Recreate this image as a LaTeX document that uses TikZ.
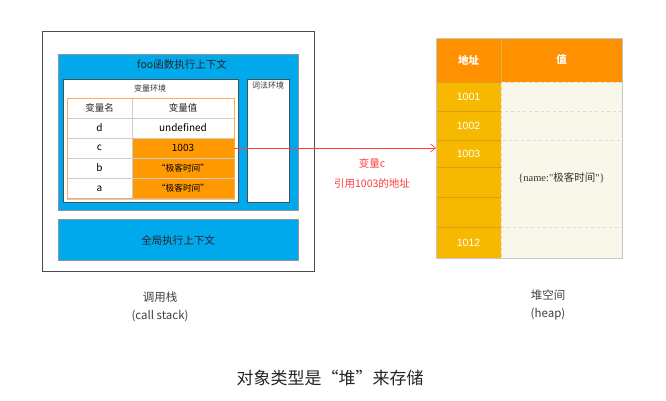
\documentclass[tikz,border=0pt]{standalone}
\usepackage{fontspec}
\setmainfont{Noto Sans CJK SC}
\newfontfamily\lserif{Liberation Serif}
\newfontfamily\lsans{Liberation Sans}
\usetikzlibrary{arrows.meta}
\definecolor{blueF}{RGB}{0,168,236}
\definecolor{orangeF}{RGB}{255,153,0}
\definecolor{orangeL}{RGB}{255,170,80}
\definecolor{heapH}{RGB}{255,145,0}
\definecolor{heapA}{RGB}{247,185,0}
\definecolor{heapAL}{RGB}{214,160,20}
\definecolor{heapV}{RGB}{249,246,234}
\definecolor{redA}{RGB}{255,60,60}
\definecolor{boxB}{RGB}{70,80,90}
\begin{document}
\begin{tikzpicture}[x=1pt,y=-1pt,
  every node/.style={inner sep=0pt, outer sep=0pt, font=\fontsize{10}{12}\selectfont},
  frame/.style={draw=black!70, line width=0.9pt},
  ctx/.style={fill=blueF, draw=boxB!60, line width=0.4pt},
  env/.style={fill=white, draw=boxB, line width=0.6pt},
  small/.style={font=\fontsize{8}{10}\selectfont, text=black!80},
  tcell/.style={draw=gray!40, line width=0.4pt},
  vcell/.style={tcell, fill=orangeF},
  hh/.style={fill=heapH, draw=heapAL!80, line width=0.5pt, text=white, font=\fontsize{10.5}{12}\selectfont\bfseries},
  ha/.style={fill=heapA, draw=heapAL, line width=0.5pt, text=white, font=\lsans\fontsize{10.5}{12}\selectfont},
  hv/.style={fill=heapV, draw=gray!30, dashed, line width=0.4pt},
  lbl/.style={font=\fontsize{11.5}{18}\selectfont, text=black!75, align=center},
  ref/.style={draw=redA, line width=0.6pt, -{Straight Barb[length=5pt,width=8pt]}}
]
\useasboundingbox[fill=white] (0,0) rectangle (666,400);

% call stack frame
\node[frame, minimum width=272pt, minimum height=240pt] (stack) at (178,151) {};

% foo execution context
\node[ctx, minimum width=240pt, minimum height=156pt] (foo) at (178,132) {};
\node[font=\fontsize{10.5}{12}\selectfont, text=black!85] (footitle) at (182,64) {foo函数执行上下文};

% variable environment
\node[env, minimum width=175pt, minimum height=123pt] (varenv) at (150.5,140.5) {};
\node[small] (vartitle) at (150,88) {变量环境};

% lexical environment
\node[env, minimum width=42pt, minimum height=123pt] (lexenv) at (268,140.5) {};
\node[small, anchor=north] (lextitle) at (268,82) {词法环境};

% variable table
\node[tcell, minimum width=65pt, minimum height=20pt, font=\fontsize{9.5}{11}\selectfont, text=black!85] (hname) at (99.5,108) {变量名};
\node[tcell, minimum width=102pt, minimum height=20pt, font=\fontsize{9.5}{11}\selectfont, text=black!85] (hval) at (183,108) {变量值};
\node[tcell, minimum width=65pt, minimum height=20pt] (nd) at (99.5,128) {d};
\node[tcell, minimum width=102pt, minimum height=20pt] (vd) at (183,128) {undefined};
\node[tcell, minimum width=65pt, minimum height=20pt] (nc) at (99.5,148) {c};
\node[vcell, minimum width=102pt, minimum height=20pt] (vc) at (183,148) {1003};
\node[tcell, minimum width=65pt, minimum height=20.5pt] (nb) at (99.5,168) {b};
\node[vcell, minimum width=102pt, minimum height=20.5pt, font=\fontsize{8.7}{10}\selectfont] (vb) at (183,168) {“极客时间”};
\node[tcell, minimum width=65pt, minimum height=20.5pt] (na) at (99.5,188.5) {a};
\node[vcell, minimum width=102pt, minimum height=20.5pt, font=\fontsize{8.7}{10}\selectfont] (va) at (183,188.5) {“极客时间”};
\draw[orangeL, line width=0.9pt] (hname.north west) rectangle (va.south east);

% global execution context
\node[ctx, minimum width=240pt, minimum height=41pt, font=\fontsize{10.5}{12}\selectfont, text=black!85] (global) at (178,240) {全局执行上下文};

% heap table
\node[hh, minimum width=65pt, minimum height=44pt] (haddr) at (468.5,60) {地址};
\node[hh, minimum width=121pt, minimum height=44pt] (hvalh) at (561.5,60) {值};
\node[ha, minimum width=65pt, minimum height=29pt] (a1) at (468.5,96.5) {1001};
\node[ha, minimum width=65pt, minimum height=29pt] (a2) at (468.5,125.5) {1002};
\node[ha, minimum width=65pt, minimum height=27pt] (a3) at (468.5,153.5) {1003};
\node[ha, minimum width=65pt, minimum height=30pt] (a4) at (468.5,182) {};
\node[ha, minimum width=65pt, minimum height=30pt] (a5) at (468.5,212) {};
\node[ha, minimum width=65pt, minimum height=31pt] (a6) at (468.5,242.5) {1012};
\node[hv, minimum width=121pt, minimum height=29pt] (v1) at (561.5,96.5) {};
\node[hv, minimum width=121pt, minimum height=29pt] (v2) at (561.5,125.5) {};
\node[hv, minimum width=121pt, minimum height=87pt] (v3) at (561.5,183.5) {};
\node[hv, minimum width=121pt, minimum height=31pt] (v4) at (561.5,242.5) {};
\node[font=\fontsize{10.5}{12}\selectfont, text=black!80] (objval) at (561.5,178) {{\lserif\{name:"}极客时间{\lserif"\}}};
\draw[gray!45, line width=0.5pt] (haddr.north west) rectangle (v4.south east);

% reference arrow
\draw[ref] (vc.east) -- (vc.east -| a3.west);
\node[text=redA, align=center, font=\fontsize{10.5}{20}\selectfont] (reflbl) at (372,173) {变量c\\引用1003的地址};

% captions
\node[lbl] (stacklbl) at (160,307) {调用栈\\(call stack)};
\node[lbl] (heaplbl) at (548,305) {堆空间\\(heap)};
\node[font=\fontsize{17}{20}\selectfont, text=black!85] (caption) at (330,378) {对象类型是“堆”来存储};
\end{tikzpicture}
\end{document}
